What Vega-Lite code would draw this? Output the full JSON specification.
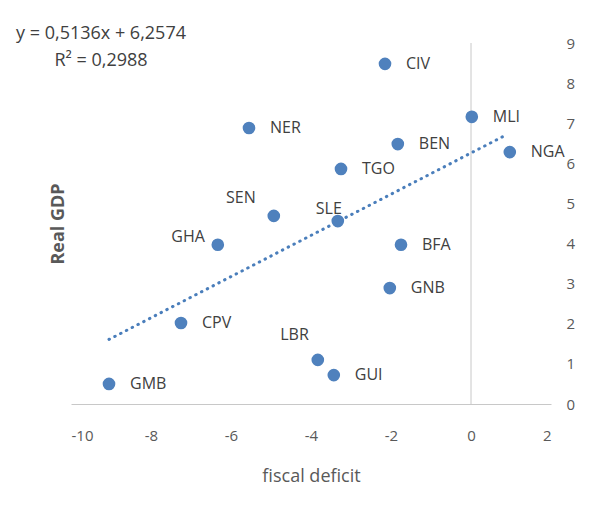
{
  "$schema": "https://vega.github.io/schema/vega-lite/v6.json",
  "width": 480,
  "height": 361,
  "padding": {"left": 16, "top": 25, "right": 10, "bottom": 10},
  "background": "white",
  "config": {
    "view": {"stroke": null},
    "font": "Open Sans",
    "axis": {"grid": false, "ticks": false, "labelFont": "Open Sans", "titleFont": "Open Sans", "labelColor": "#595959", "titleColor": "#595959"}
  },
  "title": {
    "text": ["y = 0,5136x + 6,2574", "R² = 0,2988"],
    "anchor": "start",
    "align": "center",
    "frame": "group",
    "dx": 30,
    "offset": -34,
    "fontSize": 18,
    "fontWeight": "normal",
    "font": "Open Sans",
    "color": "#404040",
    "lineHeight": 27
  },
  "datasets": {
    "countries": [
      {"country": "CIV", "deficit": -2.15, "gdp": 8.48},
      {"country": "MLI", "deficit": 0.02, "gdp": 7.16},
      {"country": "NER", "deficit": -5.55, "gdp": 6.88},
      {"country": "BEN", "deficit": -1.83, "gdp": 6.48},
      {"country": "NGA", "deficit": 0.97, "gdp": 6.28},
      {"country": "TGO", "deficit": -3.25, "gdp": 5.86},
      {"country": "SEN", "deficit": -4.93, "gdp": 4.69},
      {"country": "SLE", "deficit": -3.33, "gdp": 4.56},
      {"country": "GHA", "deficit": -6.33, "gdp": 3.97},
      {"country": "BFA", "deficit": -1.75, "gdp": 3.97},
      {"country": "GNB", "deficit": -2.03, "gdp": 2.89},
      {"country": "CPV", "deficit": -7.25, "gdp": 2.02},
      {"country": "LBR", "deficit": -3.83, "gdp": 1.1},
      {"country": "GUI", "deficit": -3.43, "gdp": 0.72},
      {"country": "GMB", "deficit": -9.05, "gdp": 0.5}
    ],
    "trend": [
      {"deficit": -9.05, "gdp": 1.61},
      {"deficit": 0.9, "gdp": 6.72}
    ],
    "zeroline": [
      {"deficit": 0, "low": 0, "high": 9}
    ]
  },
  "resolve": {"axis": {"y": "independent"}},
  "layer": [
    {
      "data": {"name": "zeroline"},
      "mark": {"type": "rule", "color": "#C8C8C8", "strokeWidth": 1},
      "encoding": {
        "x": {"field": "deficit", "type": "quantitative", "scale": {"domain": [-10, 2], "nice": false},
          "axis": {"values": [-10, -8, -6, -4, -2, 0, 2], "labelExpr": "toString(datum.value)", "domain": true, "domainColor": "#C8C8C8", "labelPadding": 24, "labelFontSize": 15, "title": "fiscal deficit", "titleFontSize": 18, "titleFontWeight": "normal", "titlePadding": 24}},
        "y": {"field": "low", "type": "quantitative", "scale": {"domain": [0, 9], "nice": false},
          "axis": {"orient": "left", "labels": false, "domain": false, "title": "Real GDP", "titleFontSize": 18, "titleFontWeight": "bold", "titlePadding": 4}},
        "y2": {"field": "high"}
      }
    },
    {
      "data": {"name": "trend"},
      "mark": {"type": "line", "color": "#4A7EBB", "strokeWidth": 3, "strokeDash": [0.5, 6], "strokeCap": "round"},
      "encoding": {
        "x": {"field": "deficit", "type": "quantitative"},
        "y": {"field": "gdp", "type": "quantitative",
          "axis": {"orient": "right", "values": [0, 1, 2, 3, 4, 5, 6, 7, 8, 9], "domain": false, "labelPadding": 15, "labelFontSize": 15, "title": null}}
      }
    },
    {
      "data": {"name": "countries"},
      "layer": [
        {
          "mark": {"type": "circle", "size": 160, "opacity": 1, "color": "#4F81BD"},
          "encoding": {
            "x": {"field": "deficit", "type": "quantitative"},
            "y": {"field": "gdp", "type": "quantitative", "axis": null}
          }
        },
        {
          "transform": [{"filter": {"not": {"field": "country", "oneOf": ["SEN", "GHA", "LBR", "SLE"]}}}],
          "mark": {"type": "text", "align": "left", "baseline": "middle", "dx": 21, "fontSize": 16, "color": "#404040", "font": "Open Sans"},
          "encoding": {
            "x": {"field": "deficit", "type": "quantitative"},
            "y": {"field": "gdp", "type": "quantitative", "axis": null},
            "text": {"field": "country"}
          }
        },
        {
          "transform": [{"filter": {"field": "country", "oneOf": ["SEN"]}}],
          "mark": {"type": "text", "align": "right", "baseline": "middle", "dx": -18, "dy": -18, "fontSize": 16, "color": "#404040", "font": "Open Sans"},
          "encoding": {
            "x": {"field": "deficit", "type": "quantitative"},
            "y": {"field": "gdp", "type": "quantitative", "axis": null},
            "text": {"field": "country"}
          }
        },
        {
          "transform": [{"filter": {"field": "country", "oneOf": ["GHA"]}}],
          "mark": {"type": "text", "align": "right", "baseline": "middle", "dx": -13, "dy": -8, "fontSize": 16, "color": "#404040", "font": "Open Sans"},
          "encoding": {
            "x": {"field": "deficit", "type": "quantitative"},
            "y": {"field": "gdp", "type": "quantitative", "axis": null},
            "text": {"field": "country"}
          }
        },
        {
          "transform": [{"filter": {"field": "country", "oneOf": ["LBR"]}}],
          "mark": {"type": "text", "align": "right", "baseline": "middle", "dx": -9, "dy": -25, "fontSize": 16, "color": "#404040", "font": "Open Sans"},
          "encoding": {
            "x": {"field": "deficit", "type": "quantitative"},
            "y": {"field": "gdp", "type": "quantitative", "axis": null},
            "text": {"field": "country"}
          }
        },
        {
          "transform": [{"filter": {"field": "country", "oneOf": ["SLE"]}}],
          "mark": {"type": "text", "align": "center", "baseline": "middle", "dx": -9, "dy": -12, "fontSize": 16, "color": "#404040", "font": "Open Sans"},
          "encoding": {
            "x": {"field": "deficit", "type": "quantitative"},
            "y": {"field": "gdp", "type": "quantitative", "axis": null},
            "text": {"field": "country"}
          }
        }
      ]
    }
  ]
}
